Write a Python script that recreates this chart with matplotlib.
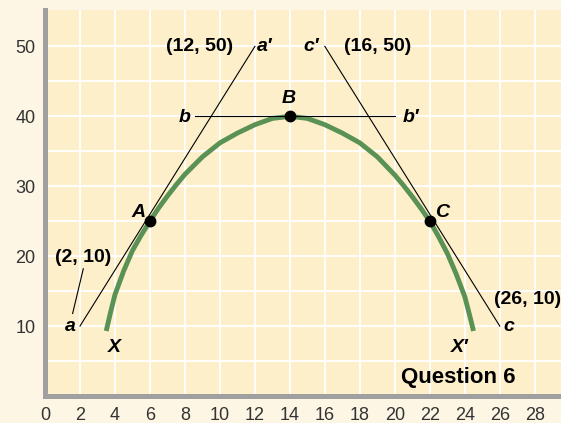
import matplotlib.pyplot as plt

plt.rcParams['font.family'] = ['Liberation Sans', 'DejaVu Sans']

# production possibilities curve
curve_x = [3.5, 3.75, 4, 4.5, 5, 5.5, 6, 6.5, 7, 7.5, 8, 9, 10, 11, 12, 13, 14,
           15, 16, 17, 18, 19, 20, 20.5, 21, 21.5, 22, 22.5, 23, 23.5, 24, 24.25, 24.5]
curve_y = [9.3, 12.0, 14.5, 17.9, 20.8, 23.0, 25.0, 26.9, 28.6, 30.2, 31.7, 34.2, 36.2, 37.6, 38.8, 39.7, 40.0,
           39.7, 38.8, 37.6, 36.2, 34.2, 31.6, 30.1, 28.5, 26.8, 25.0, 22.8, 20.4, 17.5, 14.2, 11.8, 9.3]

# tangent lines
line_a_x = [2, 12]
line_a_y = [10, 50]
line_b_x = [8.6, 20]
line_b_y = [40, 40]
line_c_x = [16, 26]
line_c_y = [50, 10]

# labelled points A, B, C
pt_x = [6, 14, 22]
pt_y = [25, 40, 25]

x_ticks = list(range(0, 29, 2))
y_ticks = [10, 20, 30, 40, 50]

fig = plt.figure(figsize=(5.61, 4.23), dpi=100, facecolor='#FDF6E4')
ax = fig.add_axes([0.0802, 0.0638, 0.9198, 0.9125])
ax.set_facecolor('#FDEFC9')

ax.set_xlim(0, 29.5)
ax.set_ylim(0, 55.2)

# white grid
for gx in range(2, 30, 2):
    ax.axvline(gx, color='white', lw=1.3, zorder=0)
for gy in range(5, 55, 5):
    ax.axhline(gy, color='white', lw=1.3, zorder=0)

for side in ['top', 'right']:
    ax.spines[side].set_visible(False)
for side in ['left', 'bottom']:
    ax.spines[side].set_color('#A0A0A0')
    ax.spines[side].set_linewidth(3.6)

ax.set_xticks(x_ticks)
ax.set_yticks(y_ticks)
ax.tick_params(length=0, labelsize=13, labelcolor='#333333')
ax.tick_params(axis='x', pad=8)
ax.tick_params(axis='y', pad=7)

# curve and lines
ax.plot(curve_x, curve_y, color='#5A9155', lw=3.5, solid_capstyle='butt',
        solid_joinstyle='round', zorder=3)
lk = dict(color='black', lw=0.8, zorder=4)
ax.plot(line_a_x, line_a_y, **lk)
ax.plot(line_b_x, line_b_y, **lk)
ax.plot(line_c_x, line_c_y, **lk)
ax.plot([1.58, 2.19], [11.8, 18.2], **lk)  # leader for (2, 10)
ax.plot(pt_x, pt_y, 'o', color='black', ms=7.5, zorder=5)

it = dict(fontsize=14, fontweight='bold', fontstyle='italic', color='black', zorder=6)
ax.text(5.75, 26.2, 'A', ha='right', va='center', **it)
ax.text(13.94, 41.4, 'B', ha='center', va='bottom', **it)
ax.text(22.3, 26.2, 'C', ha='left', va='center', **it)
ax.text(8.0, 39.8, 'b', ha='center', va='center', **it)
ax.text(20.9, 39.8, 'b′', ha='center', va='center', **it)
ax.text(1.45, 10.0, 'a', ha='center', va='center', **it)
ax.text(26.5, 10.0, 'c', ha='center', va='center', **it)
ax.text(12.55, 50.0, 'a′', ha='center', va='center', **it)
ax.text(15.2, 50.0, 'c′', ha='center', va='center', **it)
ax.text(3.95, 7.0, 'X', ha='center', va='center', **it)
ax.text(23.7, 7.0, 'X′', ha='center', va='center', **it)

bd = dict(fontsize=14, fontweight='bold', color='black', zorder=6)
ax.text(8.86, 50.0, '(12, 50)', ha='center', va='center', **bd)
ax.text(19.0, 50.0, '(16, 50)', ha='center', va='center', **bd)
ax.text(2.17, 19.8, '(2, 10)', ha='center', va='center', **bd)
ax.text(27.6, 13.8, '(26, 10)', ha='center', va='center', **bd)
ax.text(23.6, 2.6, 'Question 6', ha='center', va='center',
        fontsize=16, fontweight='bold', color='black')

fig.savefig('out.png', dpi=100, facecolor=fig.get_facecolor())
